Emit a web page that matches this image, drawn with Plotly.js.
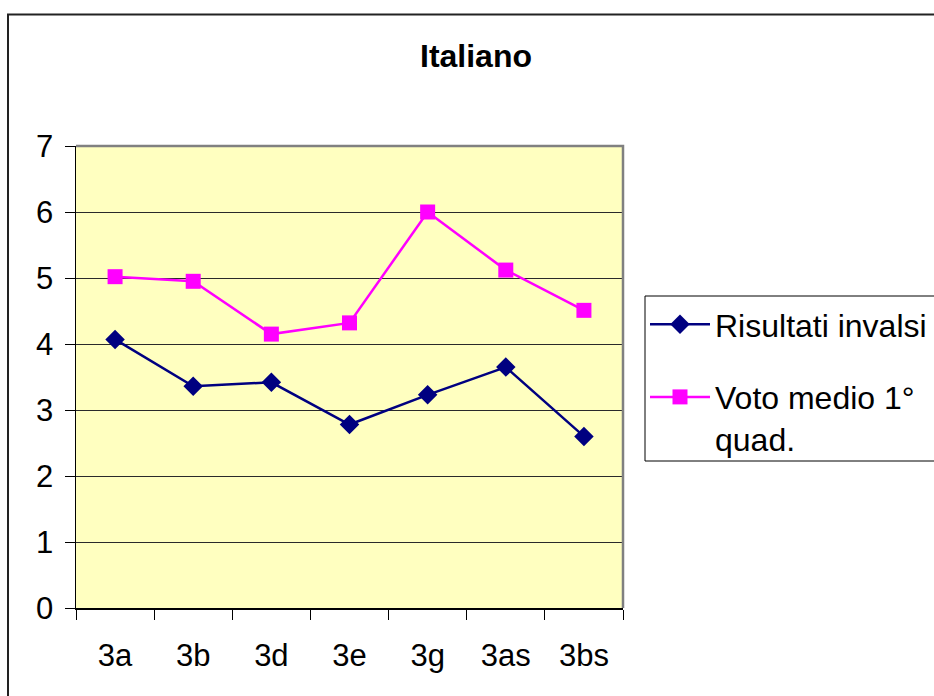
<!DOCTYPE html>
<html>
<head>
<meta charset="utf-8">
<script src="https://cdn.plot.ly/plotly-3.0.1.min.js"></script>
<style>html,body{margin:0;padding:0;background:#fff;}#chart{width:934px;height:696px;}</style>
</head>
<body>
<div id="chart"></div>
<script>
const categories = ['3a', '3b', '3d', '3e', '3g', '3as', '3bs'];
const risultatiInvalsi = [4.07, 3.36, 3.42, 2.78, 3.23, 3.65, 2.60];
const votoMedio = [5.02, 4.95, 4.15, 4.32, 6.00, 5.12, 4.51];
const yTicks = [0, 1, 2, 3, 4, 5, 6, 7];
const seriesNames = ['Risultati invalsi', 'Voto medio 1°<br>quad.'];

const FONT = '"Liberation Sans", Arial, sans-serif';

const traces = [
  {
    x: categories, y: risultatiInvalsi, name: seriesNames[0],
    type: 'scatter', mode: 'lines+markers', legendgroup: 'a',
    line: {color: '#000080', width: 2.5},
    marker: {symbol: 'diamond', size: 15, color: '#000080'}
  },
  {
    x: categories, y: votoMedio, name: seriesNames[1],
    type: 'scatter', mode: 'lines+markers', legendgroup: 'b',
    line: {color: '#FF00FF', width: 2.5},
    marker: {symbol: 'square', size: 15, color: '#FF00FF'}
  }
];

const layout = {
  width: 934, height: 696,
  margin: {l: 76, r: 311, t: 146, b: 88, autoexpand: false},
  paper_bgcolor: '#ffffff',
  plot_bgcolor: '#FFFFC0',
  font: {family: FONT, color: '#000'},
  title: {
    text: '<b>Italiano</b>', font: {family: FONT, size: 32, color: '#000'},
    xref: 'container', yref: 'container', x: 476/934, y: 1 - 56/696,
    xanchor: 'center', yanchor: 'middle'
  },
  xaxis: {
    type: 'category', range: [-0.5, 6.5], tickson: 'boundaries',
    ticks: 'outside', ticklen: 10, tickcolor: '#000', tickwidth: 1,
    showline: true, linecolor: '#000', linewidth: 1.5,
    showgrid: false, zeroline: false,
    tickfont: {family: FONT, size: 31, color: '#000'},
    ticklabelstandoff: 19, fixedrange: true
  },
  yaxis: {
    range: [0, 7], tickvals: yTicks, ticktext: yTicks.map(String),
    ticks: 'outside', ticklen: 10, tickcolor: '#000', tickwidth: 1,
    showline: true, linecolor: '#000', linewidth: 1.5,
    showgrid: true, gridcolor: '#2a2a2a', gridwidth: 1, zeroline: false,
    tickfont: {family: FONT, size: 31, color: '#000'},
    ticklabelstandoff: 5, fixedrange: true
  },
  showlegend: true,
  legend: {
    x: (645 - 76) / 547, y: (608 - 297) / 462, xanchor: 'left', yanchor: 'top',
    borderwidth: 0, bgcolor: 'rgba(0,0,0,0)',
    font: {family: FONT, size: 32, color: '#000'},
    traceorder: 'grouped', tracegroupgap: 28, valign: 'top', itemwidth: 60
  },
  shapes: [
    {type: 'path', xref: 'paper', yref: 'paper', path: 'M0,1 L1,1 L1,0',
     line: {color: '#808080', width: 2.5}},
    {type: 'rect', xref: 'paper', yref: 'paper',
     x0: (645 - 76) / 547, x1: 2, y0: (608 - 461) / 462, y1: (608 - 296) / 462,
     line: {color: '#000', width: 1}},
    {type: 'rect', xref: 'paper', yref: 'paper',
     x0: (8 - 76) / 547, x1: 2, y0: -1, y1: (608 - 14.5) / 462,
     line: {color: '#222', width: 2}}
  ]
};

Plotly.newPlot('chart', traces, layout, {displayModeBar: false, staticPlot: true});
</script>
</body>
</html>
